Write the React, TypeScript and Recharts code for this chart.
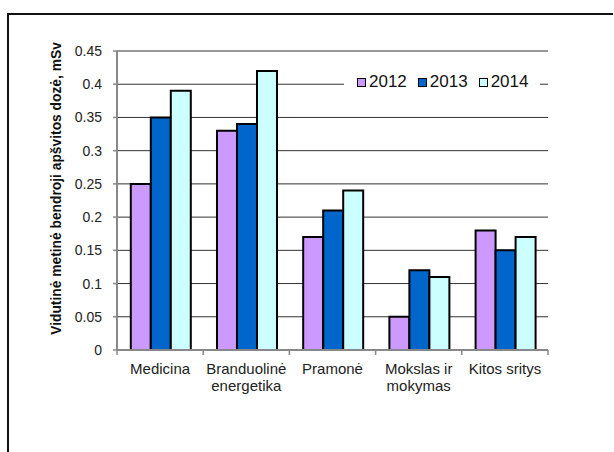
import { BarChart, Bar, XAxis, YAxis, CartesianGrid, Legend } from 'recharts'

const categories = ['Medicina', 'Branduolinė\nenergetika', 'Pramonė', 'Mokslas ir\nmokymas', 'Kitos sritys']
const dose2012 = [0.25, 0.33, 0.17, 0.05, 0.18]
const dose2013 = [0.35, 0.34, 0.21, 0.12, 0.15]
const dose2014 = [0.39, 0.42, 0.24, 0.11, 0.17]
const yTicks = [0, 0.05, 0.1, 0.15, 0.2, 0.25, 0.3, 0.35, 0.4, 0.45]
const years = ['2012', '2013', '2014']
const colors = ['#cc99ff', '#0066cc', '#ccffff']

const data = categories.map((name, i) => ({
  name,
  y2012: dose2012[i],
  y2013: dose2013[i],
  y2014: dose2014[i],
}))

const FONT = '"Liberation Sans", Arial, sans-serif'
const X_TICK_SIZE = 5
const X_TICK_MARGIN = 8

// category labels may wrap; tick marks go on the band edges like Excel does
function CategoryTick(props: any) {
  const { x, y, payload, index, visibleTicksCount } = props
  const axisY = y - X_TICK_SIZE - X_TICK_MARGIN
  const half = payload.offset ?? 43
  const lines = String(payload.value).split('\n')
  return (
    <g>
      <line x1={x - half} x2={x - half} y1={axisY} y2={axisY + 5} stroke="#888" strokeWidth={1.5} />
      {index === visibleTicksCount - 1 && (
        <line x1={x + half} x2={x + half} y1={axisY} y2={axisY + 5} stroke="#888" strokeWidth={1.5} />
      )}
      <text x={x} y={axisY + 24} textAnchor="middle" fontSize={15} fill="#222" fontFamily={FONT}>
        {lines.map((l, i) => (
          <tspan key={i} x={x} dy={i === 0 ? 0 : 17}>
            {l}
          </tspan>
        ))}
      </text>
    </g>
  )
}

function YLabel(props: any) {
  const vb = props.viewBox
  const cx = 61
  const cy = vb.y + vb.height / 2 - 12
  return (
    <text
      x={cx}
      y={cy}
      transform={`rotate(-90, ${cx}, ${cy})`}
      textAnchor="middle"
      fontSize={13.8}
      fontWeight="bold"
      fill="#111"
      fontFamily={FONT}
    >
      Vidutinė metinė bendroji apšvitos dozė, mSv
    </text>
  )
}

function LegendBox(props: any) {
  const items = props.payload || []
  return (
    <div
      style={{
        background: '#fff',
        height: 22,
        display: 'flex',
        alignItems: 'center',
        paddingLeft: 13,
        fontSize: 17,
        color: '#111',
        fontFamily: FONT,
      }}
    >
      {items.map((it: any) => (
        <span key={it.value} style={{ display: 'flex', alignItems: 'center', marginRight: 11 }}>
          <span
            style={{
              width: 9,
              height: 9,
              background: it.color,
              border: '1.5px solid #000',
              boxSizing: 'border-box',
              marginRight: 3,
            }}
          />
          {it.value}
        </span>
      ))}
    </div>
  )
}

export default function App() {
  return (
    <div style={{ position: 'absolute', left: 0, top: 0, width: 614, height: 452, overflow: 'hidden', background: '#fff' }}>
      <div
        style={{
          position: 'absolute',
          left: 7,
          top: 13,
          width: 604,
          height: 600,
          borderLeft: '2px solid #111',
          borderTop: '2px solid #111',
        }}
      />
      <div style={{ position: 'absolute', left: 0, top: 0 }}>
        <BarChart
          width={614}
          height={452}
          data={data}
          margin={{ top: 51, right: 66, bottom: 42, left: 0 }}
          barCategoryGap="16%"
          barGap={0}
        >
          <CartesianGrid vertical={false} stroke="#333" strokeWidth={1} />
          <XAxis
            dataKey="name"
            height={60}
            interval={0}
            axisLine={{ stroke: '#888', strokeWidth: 2 }}
            tickLine={false}
            tickSize={X_TICK_SIZE}
            tickMargin={X_TICK_MARGIN}
            tick={<CategoryTick />}
          />
          <YAxis
            width={117}
            domain={[0, 0.45]}
            ticks={yTicks}
            interval={0}
            axisLine={{ stroke: '#888', strokeWidth: 2 }}
            tickLine={{ stroke: '#888', strokeWidth: 1.5 }}
            tickSize={4}
            tickMargin={11}
            tick={{ fontSize: 14, fill: '#222', fontFamily: FONT }}
            label={<YLabel />}
          />
          <Legend
            layout="horizontal"
            verticalAlign="middle"
            align="center"
            wrapperStyle={{ left: 344, top: 71, width: 196, height: 22 }}
            content={<LegendBox />}
          />
          <Bar dataKey="y2012" name={years[0]} fill={colors[0]} stroke="#000" strokeWidth={2} isAnimationActive={false} />
          <Bar dataKey="y2013" name={years[1]} fill={colors[1]} stroke="#000" strokeWidth={2} isAnimationActive={false} />
          <Bar dataKey="y2014" name={years[2]} fill={colors[2]} stroke="#000" strokeWidth={2} isAnimationActive={false} />
        </BarChart>
      </div>
    </div>
  )
}
